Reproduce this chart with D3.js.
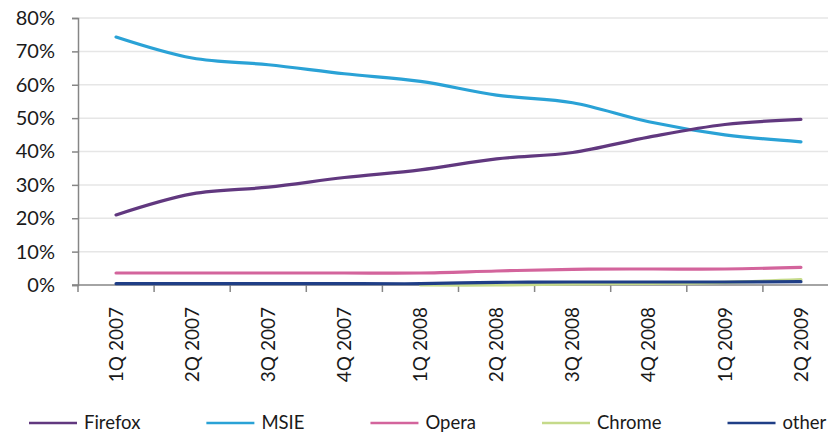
<!DOCTYPE html>
<html>
<head>
<meta charset="utf-8">
<script src="https://cdn.jsdelivr.net/npm/d3@7"></script>
<style>
  html, body { margin: 0; padding: 0; background: #fff; }
  svg { display: block; }
  text { font-family: Lato, "Open Sans", sans-serif; fill: #1a1a1a; }
</style>
</head>
<body>
<svg id="chart" width="828" height="435"></svg>
<script>
// Browser market share by quarter, in percent
const quarters = ["1Q 2007", "2Q 2007", "3Q 2007", "4Q 2007", "1Q 2008",
                  "2Q 2008", "3Q 2008", "4Q 2008", "1Q 2009", "2Q 2009"];
const firefox = [21.0, 27.3, 29.3, 32.2, 34.5, 37.8, 39.7, 44.3, 48.1, 49.6];
const msie    = [74.3, 68.0, 66.0, 63.3, 61.0, 56.9, 54.6, 48.9, 45.0, 42.9];
const opera   = [3.6, 3.6, 3.6, 3.6, 3.6, 4.2, 4.7, 4.8, 4.8, 5.3];
const chrome  = [null, null, null, null, 0.0, 0.0, 0.3, 0.5, 0.8, 1.6];
const other   = [0.4, 0.4, 0.4, 0.4, 0.4, 0.8, 0.9, 0.9, 0.9, 1.0];
const yTicks  = [0, 10, 20, 30, 40, 50, 60, 70, 80];

const seriesNames  = ["Firefox", "MSIE", "Opera", "Chrome", "other"];
const seriesValues = [firefox, msie, opera, chrome, other];
const seriesColors = ["#61387f", "#2aa2d6", "#d3649c", "#c5da8a", "#1f3e86"];

const svg = d3.select("#chart");
const plotLeft = 78, plotTop = 18, plotBottom = 285, bandW = 76.1;

const x = d3.scaleBand().domain(quarters).range([plotLeft, plotLeft + bandW * quarters.length]);
const y = d3.scaleLinear().domain([0, 80]).range([plotBottom, plotTop]);

// horizontal gridlines
svg.append("g").selectAll("line").data(yTicks.filter(d => d > 0)).join("line")
  .attr("x1", plotLeft).attr("x2", 828)
  .attr("y1", d => y(d)).attr("y2", d => y(d))
  .attr("stroke", "#e6e6e6").attr("stroke-width", 1.5);

// y axis
const yAxis = svg.append("g").attr("transform", `translate(${plotLeft},0)`)
  .call(d3.axisLeft(y).tickValues(yTicks).tickFormat(d => d + "%").tickSize(6).tickPadding(17));
yAxis.select(".domain").attr("stroke", "#868686").attr("stroke-width", 1.5);
yAxis.selectAll(".tick line").attr("stroke", "#868686").attr("stroke-width", 1.5);
yAxis.selectAll(".tick text").attr("font-size", 20).attr("font-family", "Lato, sans-serif")
  .attr("fill", "#1a1a1a");

// x axis: ticks at category boundaries, labels rotated
const xg = svg.append("g");
xg.append("line").attr("x1", plotLeft - 6).attr("x2", 828).attr("y1", plotBottom).attr("y2", plotBottom)
  .attr("stroke", "#868686").attr("stroke-width", 1.5);
xg.selectAll(".xt").data(quarters).join("line").attr("class", "xt")
  .attr("x1", d => x(d)).attr("x2", d => x(d))
  .attr("y1", plotBottom).attr("y2", plotBottom + 7)
  .attr("stroke", "#868686").attr("stroke-width", 1.5);
xg.selectAll(".xl").data(quarters).join("text").attr("class", "xl")
  .attr("transform", d => `translate(${x(d) + x.bandwidth() / 2},307) rotate(-90)`)
  .attr("text-anchor", "end").attr("dy", "0.35em")
  .attr("font-size", 19).text(d => d);

// smoothed series lines
const line = d3.line()
  .x(d => x(d.q) + x.bandwidth() / 2)
  .y(d => y(d.v))
  .curve(d3.curveCatmullRom.alpha(0.5));

const order = [3, 4, 2, 1, 0];
svg.append("g").selectAll("path").data(order).join("path")
  .attr("d", i => line(quarters.map((q, k) => ({ q, v: seriesValues[i][k] })).filter(d => d.v !== null)))
  .attr("fill", "none")
  .attr("stroke", i => seriesColors[i])
  .attr("stroke-width", 3.2)
  .attr("stroke-linecap", "round");

// legend along the bottom
const legend = svg.append("g").attr("transform", "translate(29,423)");
let lx = 0;
seriesNames.forEach((name, i) => {
  const g = legend.append("g").attr("transform", `translate(${lx},0)`);
  g.append("line").attr("x1", 0).attr("x2", 48).attr("y1", 0).attr("y2", 0)
    .attr("stroke", seriesColors[i]).attr("stroke-width", 2.5);
  const t = g.append("text").attr("x", 55).attr("y", 0).attr("dy", "0.35em")
    .attr("font-size", 18.5).text(name);
  lx += 55 + t.node().getComputedTextLength() + 66;
});
</script>
</body>
</html>
